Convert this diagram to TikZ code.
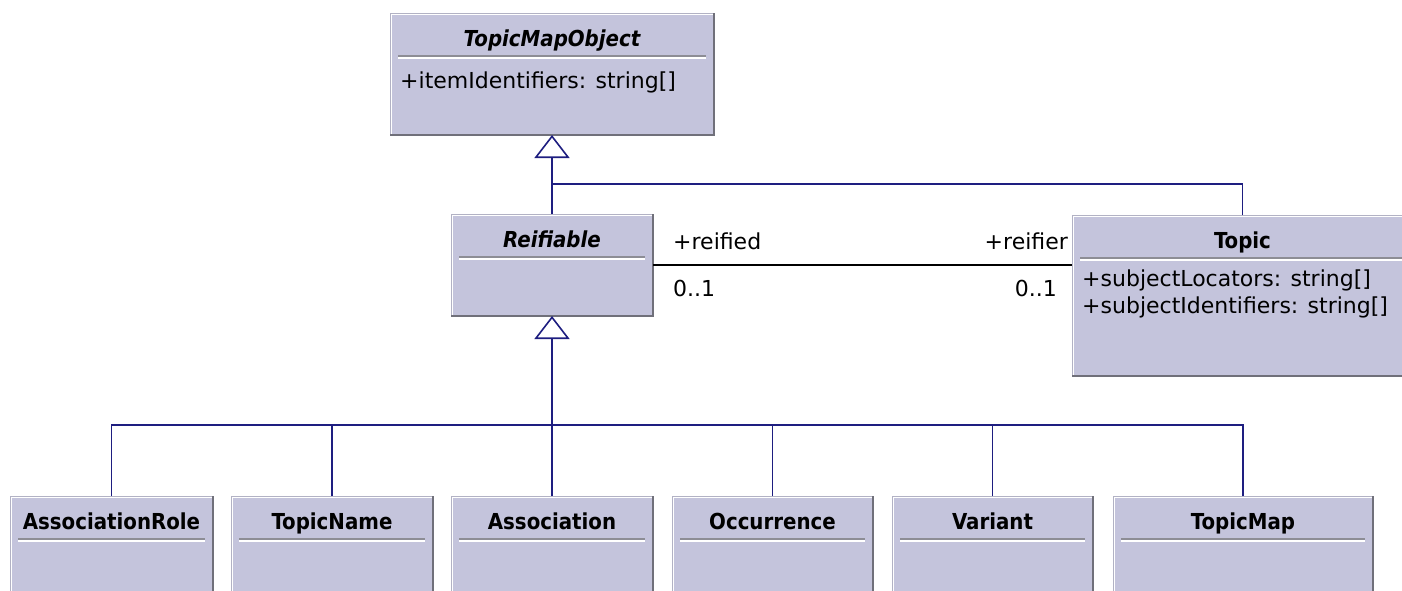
\documentclass[tikz,border=0pt]{standalone}
\usepackage{fontspec}
\setmainfont{DejaVu Sans}
\newfontfamily\titlefont{DejaVu Sans Condensed}
\usetikzlibrary{arrows.meta,positioning}

\definecolor{classfill}{RGB}{196,196,220}
\definecolor{classedge}{RGB}{178,178,196}
\definecolor{classshade}{RGB}{112,112,122}
\definecolor{linkblue}{RGB}{30,30,128}

\tikzset{
  classbox/.style={draw=classedge, fill=classfill, line width=1pt, inner sep=0pt, anchor=north west},
  edgeshade/.style={classshade, line width=2.5pt},
  edgelight/.style={white, line width=1.2pt},
  sepdark/.style={classshade!80, line width=1.5pt},
  seplight/.style={white, line width=1.5pt},
  classname/.style={font=\titlefont\bfseries\fontsize{22}{26}\selectfont, inner sep=0pt, anchor=base},
  attr/.style={font=\fontsize{22}{26}\selectfont, anchor=west, inner sep=0pt},
  role/.style={font=\fontsize{22}{26}\selectfont, inner sep=0pt},
  gen/.style={linkblue, line width=1.6pt},
  genhead/.style={gen, -{Triangle[open, width=35pt, length=23pt]}},
  assoc/.style={black, line width=1.5pt}
}

% box: name, x, y, width, height, title
\newcommand{\umlclass}[6]{%
  \node[classbox, minimum width=#4pt, minimum height=#5pt] (#1) at (#2,#3) {};
  \draw[edgeshade] (#1.north east) -- (#1.south east) -- (#1.south west);
  \draw[edgelight] ([shift={(1.5pt,1.5pt)}]#1.south west) -- ([shift={(1.5pt,-1.5pt)}]#1.north west) -- ([shift={(-1.5pt,-1.5pt)}]#1.north east);
  \draw[sepdark] ([shift={(8pt,-43pt)}]#1.north west) -- ([shift={(-8pt,-43pt)}]#1.north east);
  \draw[seplight] ([shift={(8pt,-45pt)}]#1.north west) -- ([shift={(-8pt,-45pt)}]#1.north east);
  \node[classname] (#1-name) at ([yshift=-33pt]#1.north) {#6};
}

\begin{document}
\begin{tikzpicture}[x=1pt, y=-1pt]
\useasboundingbox (0,0) rectangle (1402,590);
\clip (0,0) rectangle (1402,590);

% classes
\umlclass{tmo}{390}{13}{323}{121}{\itshape TopicMapObject}
\node[attr] (tmo-ids) at ([shift={(10pt,-69pt)}]tmo.north west) {+itemIdentifiers: string[]};

\umlclass{reif}{451}{214}{201}{101}{\itshape Reifiable}

\umlclass{topic}{1072}{215}{340}{160}{Topic}
\node[attr] (topic-loc) at ([shift={(10pt,-65pt)}]topic.north west) {+subjectLocators: string[]};
\node[attr] (topic-ids) at ([shift={(10pt,-92pt)}]topic.north west) {+subjectIdentifiers: string[]};

\umlclass{role}{10}{496}{202}{150}{AssociationRole}
\umlclass{tname}{231}{496}{201}{150}{TopicName}
\umlclass{assocn}{451}{496}{201}{150}{Association}
\umlclass{occ}{672}{496}{200}{150}{Occurrence}
\umlclass{variant}{892}{496}{200}{150}{Variant}
\umlclass{tmap}{1113}{496}{259}{150}{TopicMap}

% generalisations
\coordinate (bus-high) at (551.5,184);
\coordinate (bus-low) at (551.5,425);
\draw[genhead] (reif.north) -- (tmo.south);
\draw[gen] (topic.north) |- (bus-high);
\draw[genhead] (assocn.north) -- (reif.south);
\foreach \child in {role, tname, occ, variant, tmap}
  \draw[gen] (\child.north) |- (bus-low);

% reification
\draw[assoc] (reif.east) -- (reif.east -| topic.west) coordinate (reif-end);
\node[role, anchor=west] (reified) at ([shift={(20pt,24pt)}]reif.east) {+reified};
\node[role, anchor=west] (reified-m) at ([shift={(20pt,-23pt)}]reif.east) {0..1};
\node[role, anchor=east] (reifier) at ([shift={(-4pt,24pt)}]reif-end) {+reifier};
\node[role, anchor=east] (reifier-m) at ([shift={(-15pt,-23pt)}]reif-end) {0..1};
\end{tikzpicture}
\end{document}
